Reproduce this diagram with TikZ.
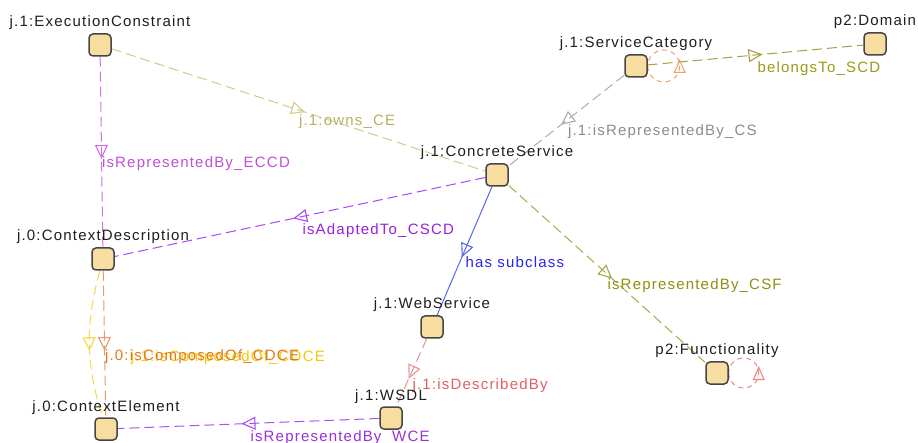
\documentclass[tikz,border=0pt]{standalone}
\usepackage{fontspec}
\newfontfamily\dfont{Liberation Sans}[LetterSpace=8]
\usetikzlibrary{arrows.meta,decorations.markings,backgrounds}
\definecolor{boxfill}{HTML}{F7DDA0}
\definecolor{boxline}{HTML}{454545}
\definecolor{ownsL}{HTML}{CFCB8A}\definecolor{ownsT}{HTML}{B5B060}
\definecolor{eccdL}{HTML}{D26EE6}\definecolor{eccdT}{HTML}{C050D8}
\definecolor{cscdL}{HTML}{A848F0}\definecolor{cscdT}{HTML}{9A20E0}
\definecolor{csL}{HTML}{ABABAB}\definecolor{csT}{HTML}{8C8C8C}
\definecolor{scdL}{HTML}{A8A040}\definecolor{scdT}{HTML}{9A9A1A}
\definecolor{csfL}{HTML}{A8A848}\definecolor{csfT}{HTML}{8F8F10}
\definecolor{subL}{HTML}{5566F0}\definecolor{subT}{HTML}{2828EE}
\definecolor{descL}{HTML}{E89090}\definecolor{descT}{HTML}{E06060}
\definecolor{wceL}{HTML}{A850F0}\definecolor{wceT}{HTML}{9830D8}
\definecolor{cdceL}{HTML}{E89868}\definecolor{cdceT}{HTML}{E07820}
\definecolor{yelL}{HTML}{F8D848}\definecolor{yelT}{HTML}{F8C800}
\definecolor{scLoop}{HTML}{F0A070}
\definecolor{fnLoop}{HTML}{EE8888}
\definecolor{nameT}{HTML}{1E1E1E}
\begin{document}
\begin{tikzpicture}[x=1pt,y=-1pt,
  cls/.style={rectangle, minimum width=22pt, minimum height=22pt, rounded corners=4pt,
    fill=boxfill, draw=boxline, line width=1.5pt, inner sep=0pt},
  nm/.style={font=\dfont\fontsize{15}{18}\selectfont, text=nameT, inner sep=0pt, anchor=base},
  elab/.style={font=\dfont\fontsize{15}{18}\selectfont, inner sep=0pt, anchor=north west},
  edge/.style={line width=1pt, dash pattern=on 10pt off 5pt},
  solidedge/.style={line width=1pt},
  mid/.style={postaction={decorate}, decoration={markings,
    mark=at position 0.5 with {\arrow[xshift=7pt]{Triangle[open,length=14pt,width=13pt,line width=1.1pt]}}}},
  selfloop/.style={line width=1pt, dash pattern=on 5pt off 4pt, postaction={decorate}, decoration={markings,
    mark=at position 0.5 with {\arrow[xshift=7pt]{Triangle[open,length=14pt,width=12pt,line width=1.1pt]}}}}
]
\useasboundingbox (0,0) rectangle (918,443);

% class boxes
\node[cls] (ec) at (100,45) {};
\node[cls] (cs) at (497,175) {};
\node[cls] (sc) at (636,66) {};
\node[cls] (dom) at (875,44) {};
\node[cls] (cd) at (103,259) {};
\node[cls] (ce) at (106,429) {};
\node[cls] (ws) at (432,327) {};
\node[cls] (wsdl) at (391,418) {};
\node[cls] (fn) at (717,373) {};

% class names
\node[nm] (ec-l) at ([yshift=18pt]ec.center) {j.1:ExecutionConstraint};
\node[nm] (cs-l) at ([yshift=18pt]cs.center) {j.1:ConcreteService};
\node[nm] (sc-l) at ([yshift=18pt]sc.center) {j.1:ServiceCategory};
\node[nm] (dom-l) at ([yshift=18pt]dom.center) {p2:Domain};
\node[nm] (cd-l) at ([yshift=18pt]cd.center) {j.0:ContextDescription};
\node[nm] (ce-l) at ([yshift=18pt]ce.center) {j.0:ContextElement};
\node[nm] (ws-l) at ([yshift=18pt]ws.center) {j.1:WebService};
\node[nm] (wsdl-l) at ([yshift=18pt]wsdl.center) {j.1:WSDL};
\node[nm] (fn-l) at ([yshift=18pt]fn.center) {p2:Functionality};

\begin{pgfonlayer}{background}
\draw[edge, draw=ownsL, mid] (ec) -- node[elab, text=ownsT, yshift=-4pt] (owns) {j.1:owns\_CE} (cs);
\draw[edge, draw=eccdL, mid] (ec) -- node[elab, text=eccdT, yshift=-4.5pt] (eccd) {isRepresentedBy\_ECCD} (cd);
\draw[edge, draw=cscdL, mid] (cs) -- node[elab, text=cscdT, xshift=2pt, yshift=-6.5pt] (cscd) {isAdaptedTo\_CSCD} (cd);
\draw[edge, draw=csL, mid] (sc) -- node[elab, text=csT, xshift=1pt, yshift=-3.5pt] (rcs) {j.1:isRepresentedBy\_CS} (cs);
\draw[edge, draw=scdL, mid] (sc) -- node[elab, text=scdT, xshift=1.5pt, yshift=-6pt] (scd) {belongsTo\_SCD} (dom);
\draw[solidedge, draw=subL, mid] (cs) -- node[elab, text=subT, xshift=0.5pt, yshift=-5pt] (sub) {has subclass} (ws);
\draw[edge, draw=csfL, mid] (cs) -- node[elab, text=csfT, yshift=-4pt] (csf) {isRepresentedBy\_CSF} (fn);
\draw[edge, draw=descL, mid] (ws) -- node[elab, text=descT, xshift=0.5pt, yshift=-5.5pt] (desc) {j.1:isDescribedBy} (wsdl);
\draw[edge, draw=wceL, mid] (wsdl) -- node[elab, text=wceT, xshift=1.5pt, yshift=-6.5pt] (wce) {isRepresentedBy\_WCE} (ce);
\draw[edge, draw=yelL, mid] (cd) to[bend right=16] node[elab, text=yelT, xshift=41pt, yshift=-5.5pt] (yel) {j.1:isComposedOf\_CDCE} (ce);
\draw[edge, draw=cdceL, mid] (cd) -- node[elab, text=cdceT, yshift=-5.5pt] (cdce) {j.0:isComposedOf\_CDCE} (ce);
\draw[selfloop, draw=scLoop] (sc.east) arc[start angle=180, end angle=-180, radius=16];
\draw[selfloop, draw=fnLoop] (fn.east) arc[start angle=180, end angle=-180, radius=15];
\end{pgfonlayer}
\end{tikzpicture}
\end{document}
